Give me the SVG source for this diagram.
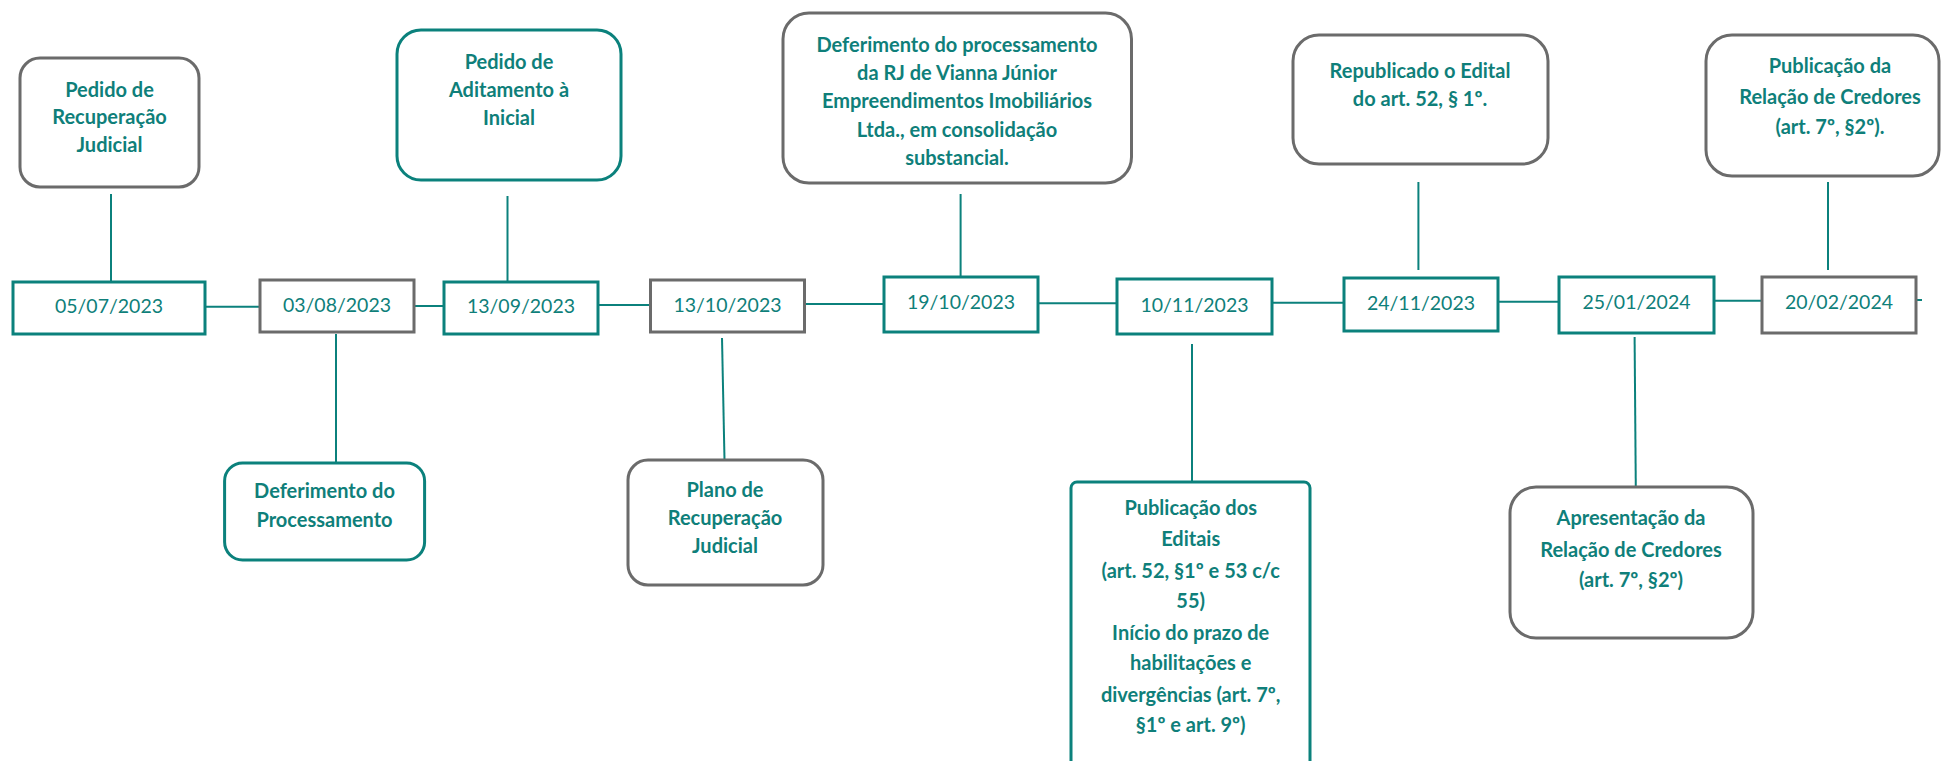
<svg xmlns="http://www.w3.org/2000/svg" width="1941" height="761" viewBox="0 0 1941 761">
<style>
.bg{fill:#ffffff}
.dt{fill:#fff;stroke:#0b817c;stroke-width:3}
.dg{fill:#fff;stroke:#6b6b6b;stroke-width:3}
.bt{fill:#fff;stroke:#0b817c;stroke-width:3}
.bgr{fill:#fff;stroke:#6b6b6b;stroke-width:3}
.c{stroke:#0b817c;stroke-width:2;fill:none}
.d{font-family:Lato,"Liberation Sans",sans-serif;font-size:19.5px;fill:#0f7f7a;text-anchor:middle}
.l{font-family:Lato,"Liberation Sans",sans-serif;font-weight:bold;font-size:20px;fill:#0f7f7a;text-anchor:middle}
</style>
<rect class="bg" x="0" y="0" width="1941" height="761"/>
<g id="connectors">
<line class="c" x1="111" y1="194" x2="111" y2="282"/>
<line class="c" x1="507.5" y1="196" x2="507.5" y2="282"/>
<line class="c" x1="960.6" y1="194" x2="960.6" y2="277"/>
<line class="c" x1="1418.4" y1="182" x2="1418.4" y2="270"/>
<line class="c" x1="1828" y1="182" x2="1828" y2="270"/>
<line class="c" x1="336" y1="334" x2="336" y2="463"/>
<line class="c" x1="722" y1="338" x2="724.5" y2="460"/>
<line class="c" x1="1192" y1="344" x2="1192" y2="482"/>
<line class="c" x1="1634.6" y1="337" x2="1635.8" y2="487"/>
<line class="c" x1="205" y1="306.7" x2="260" y2="306.7"/>
<line class="c" x1="414" y1="306" x2="444" y2="306"/>
<line class="c" x1="598" y1="305" x2="650.5" y2="305"/>
<line class="c" x1="804.5" y1="304" x2="884" y2="304"/>
<line class="c" x1="1038" y1="303.3" x2="1117" y2="303.3"/>
<line class="c" x1="1272" y1="302.7" x2="1344" y2="302.7"/>
<line class="c" x1="1498" y1="301.7" x2="1559" y2="301.7"/>
<line class="c" x1="1714" y1="300.7" x2="1762" y2="300.7"/>
<line class="c" x1="1916" y1="300" x2="1922" y2="300"/>
</g>
<g id="d1"><rect class="dt" x="13" y="282" width="192" height="52"/><text class="d" x="109" y="313.3">05/07/2023</text></g>
<g id="d2"><rect class="dg" x="260" y="280" width="154" height="52"/><text class="d" x="337" y="312.3">03/08/2023</text></g>
<g id="d3"><rect class="dt" x="444" y="282" width="154" height="52"/><text class="d" x="521" y="313.3">13/09/2023</text></g>
<g id="d4"><rect class="dg" x="650.5" y="280" width="154" height="52"/><text class="d" x="727.5" y="312.3">13/10/2023</text></g>
<g id="d5"><rect class="dt" x="884" y="277" width="154" height="55"/><text class="d" x="961" y="309.3">19/10/2023</text></g>
<g id="d6"><rect class="dt" x="1117" y="279" width="155" height="55"/><text class="d" x="1194.5" y="311.7">10/11/2023</text></g>
<g id="d7"><rect class="dt" x="1344" y="278" width="154" height="53"/><text class="d" x="1421" y="310">24/11/2023</text></g>
<g id="d8"><rect class="dt" x="1559" y="277" width="155" height="56"/><text class="d" x="1636.5" y="308.7">25/01/2024</text></g>
<g id="d9"><rect class="dg" x="1762" y="277" width="154" height="56"/><text class="d" x="1839" y="308.7">20/02/2024</text></g>
<g id="u1"><rect class="bgr" x="20" y="58" width="179" height="129" rx="20"/>
<text class="l"><tspan x="109.5" y="96.7">Pedido de</tspan><tspan x="109.5" y="124.3">Recuperação</tspan><tspan x="109.5" y="152.2">Judicial</tspan></text></g>
<g id="u2"><rect class="bt" x="397" y="30" width="224" height="150" rx="24"/>
<text class="l"><tspan x="509" y="69.3">Pedido de</tspan><tspan x="509" y="97.3">Aditamento à</tspan><tspan x="509" y="125">Inicial</tspan></text></g>
<g id="u3"><rect class="bgr" x="783" y="13" width="348.5" height="170" rx="26"/>
<text class="l"><tspan x="957" y="51.7">Deferimento do processamento</tspan><tspan x="957" y="80">da RJ de Vianna Júnior</tspan><tspan x="957" y="108.3">Empreendimentos Imobiliários</tspan><tspan x="957" y="136.7">Ltda., em consolidação</tspan><tspan x="957" y="165">substancial.</tspan></text></g>
<g id="u4"><rect class="bgr" x="1293" y="35" width="255" height="129" rx="26"/>
<text class="l"><tspan x="1420" y="78.3">Republicado o Edital</tspan><tspan x="1420" y="106">do art. 52, § 1º.</tspan></text></g>
<g id="u5"><rect class="bgr" x="1706" y="35" width="233" height="141" rx="26"/>
<text class="l"><tspan x="1830" y="72.7">Publicação da</tspan><tspan x="1830" y="104">Relação de Credores</tspan><tspan x="1830" y="134.3">(art. 7º, §2º).</tspan></text></g>
<g id="l1"><rect class="bt" x="224.6" y="463" width="200" height="97" rx="18"/>
<text class="l"><tspan x="324.5" y="498.3">Deferimento do</tspan><tspan x="324.5" y="527.3">Processamento</tspan></text></g>
<g id="l2"><rect class="bgr" x="628" y="460" width="195" height="125" rx="20"/>
<text class="l"><tspan x="725" y="496.7">Plano de</tspan><tspan x="725" y="525">Recuperação</tspan><tspan x="725" y="553.3">Judicial</tspan></text></g>
<g id="l3"><rect class="bt" x="1071" y="482" width="239" height="300" rx="6"/>
<text class="l"><tspan x="1190.7" y="515">Publicação dos</tspan><tspan x="1190.7" y="545.5">Editais</tspan><tspan x="1190.7" y="578">(art. 52, §1º e 53 c/c</tspan><tspan x="1190.7" y="607.5">55)</tspan><tspan x="1190.7" y="640">Início do prazo de</tspan><tspan x="1190.7" y="670">habilitações e</tspan><tspan x="1190.7" y="701.7">divergências (art. 7º,</tspan><tspan x="1190.7" y="731.7">§1º e art. 9º)</tspan></text></g>
<g id="l4"><rect class="bgr" x="1510" y="487" width="243" height="151" rx="26"/>
<text class="l"><tspan x="1631" y="525">Apresentação da</tspan><tspan x="1631" y="556.7">Relação de Credores</tspan><tspan x="1631" y="587.3">(art. 7º, §2º)</tspan></text></g>
</svg>
